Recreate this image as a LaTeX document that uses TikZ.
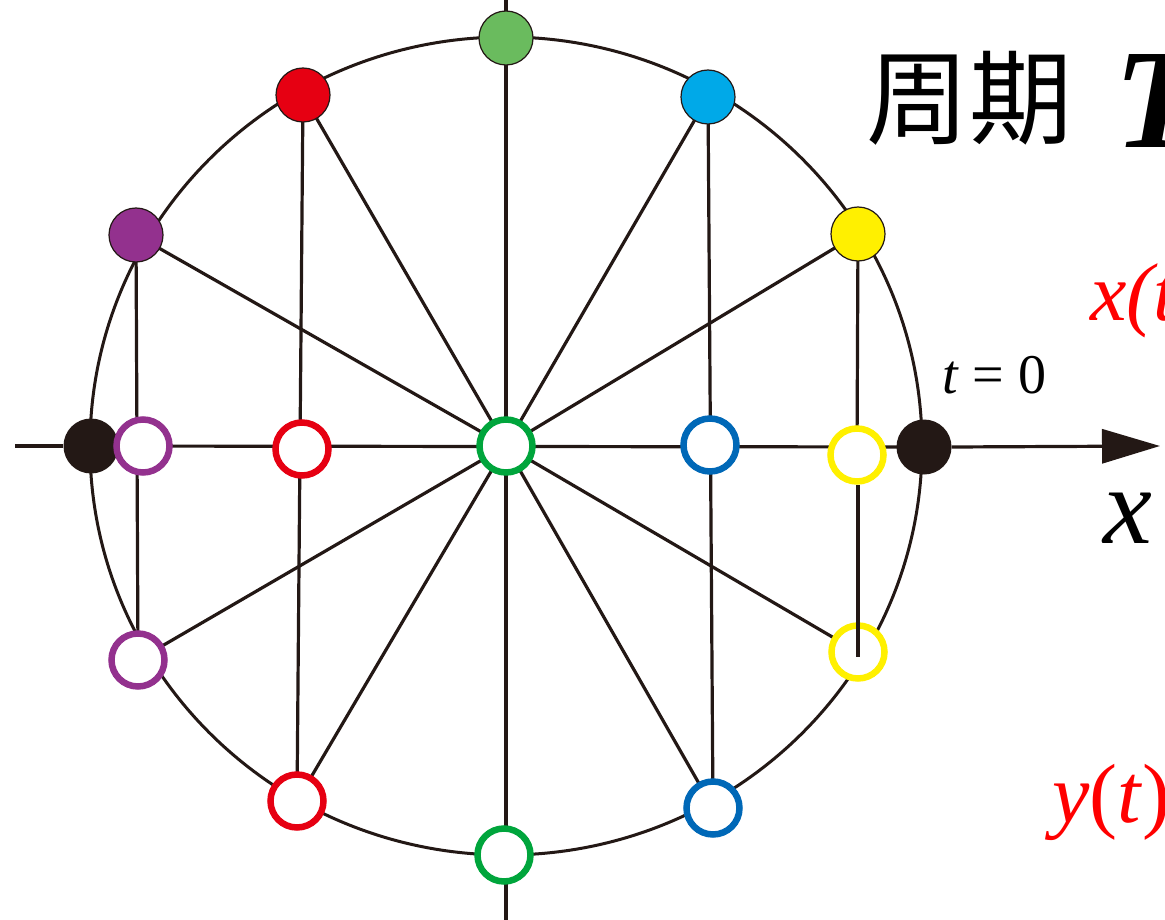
\documentclass[tikz,border=0pt]{standalone}
\usepackage{fontspec}
\setmainfont{Liberation Serif}
\newfontfamily\cjk{Noto Sans CJK SC}
\usetikzlibrary{arrows.meta}
\definecolor{ink}{HTML}{231815}
\definecolor{cred}{HTML}{E60012}
\definecolor{cgreenf}{HTML}{6ABB5E}
\definecolor{cgreen}{HTML}{00A53C}
\definecolor{cbluef}{HTML}{00A9E8}
\definecolor{cblue}{HTML}{0068B7}
\definecolor{cpurple}{HTML}{93318E}
\definecolor{cyellow}{HTML}{FFF000}
\pgfdeclarelayer{bg}
\pgfsetlayers{bg,main}
\tikzset{
  filldot/.style={circle, draw=ink, fill=#1, line width=1.2pt, minimum size=54pt, inner sep=0pt},
  blackdot/.style={circle, fill=ink, minimum size=55pt, inner sep=0pt},
  opendot/.style={circle, draw=#1, fill=white, line width=6.5pt, minimum size=53pt, inner sep=0pt},
  spoke/.style={draw=ink, line width=3.2pt},
  lbl/.style={inner sep=0pt, anchor=base west},
}
\begin{document}
\begin{tikzpicture}[x=1pt,y=-1pt]
\useasboundingbox (0,0) rectangle (1165,920);
\clip (0,0) rectangle (1165,920);
% nodes
\node[opendot=cgreen] (c) at (506,446) {};
\node[filldot=cgreenf] (gtop) at (506,38) {};
\node[filldot=cred] (rtop) at (303,95) {};
\node[filldot=cbluef] (btop) at (708,97) {};
\node[filldot=cpurple] (ptop) at (136,235) {};
\node[filldot=cyellow] (ytop) at (858,234) {};
\node[blackdot] (kl) at (91,446) {};
\node[blackdot] (kr) at (924,447) {};
\node[opendot=cpurple] (pmid) at (143,446) {};
\node[opendot=cred] (rmid) at (302,449) {};
\node[opendot=cblue] (bmid) at (710,445) {};
\node[opendot=cyellow] (ymid) at (857,455) {};
\node[opendot=cpurple] (plow) at (138,660) {};
\node[opendot=cred] (rlow) at (297,801) {};
\node[opendot=cgreen] (glow) at (504,855) {};
\node[opendot=cblue] (blow) at (713,808) {};
\node[opendot=cyellow] (ylow) at (858,652) {};
\coordinate (vt) at (506,0);
\coordinate (vb) at (506,920);
\coordinate (hl) at (15,446);
\coordinate (hr) at (1160,446);
\coordinate (yend) at (858,657);
\begin{pgfonlayer}{bg}
  \draw[ink, line width=3pt] (506,446) ellipse [x radius=416pt, y radius=409pt];
  \draw[spoke] (vt) -- (vb);
  \foreach \p in {rtop,btop,ptop,ytop,plow,rlow,blow,ylow}
    \draw[spoke] (c.center) -- (\p.center);
  \draw[spoke] (ptop.center) -- (plow.center);
  \draw[spoke] (rtop.center) -- (rlow.center);
  \draw[spoke] (btop.center) -- (blow.center);
  \draw[spoke] (ytop.center) -- (ymid.center);
  \draw[spoke] (kl.center) -- (kr.center);
\end{pgfonlayer}
\draw[spoke] (ymid.south -| yend) -- (yend);
\draw[spoke, -{Triangle[length=58pt,width=34pt]}] (kr.east) -- (hr);
\draw[spoke] (hl) -- (kl.west);
% labels
\node[lbl] (zq) at (866,137) {\fontsize{103pt}{103pt}\selectfont\cjk 周期};
\node[lbl] (tt) at (1114,148) {\fontsize{142pt}{142pt}\selectfont\bfseries\itshape T};
\node[lbl, text=red] (xt) at (1090,320) {\fontsize{82pt}{82pt}\selectfont\itshape x(t)};
\node[lbl] (t0) at (942,393) {\fontsize{56pt}{56pt}\selectfont\itshape t\/ \upshape = 0};
\node[lbl] (xx) at (1103,543) {\fontsize{110pt}{110pt}\selectfont\itshape x};
\node[lbl, text=red] (yt) at (1052,822) {\fontsize{84pt}{84pt}\selectfont\itshape y\/\upshape(\itshape t\/\upshape)};
\end{tikzpicture}
\end{document}
